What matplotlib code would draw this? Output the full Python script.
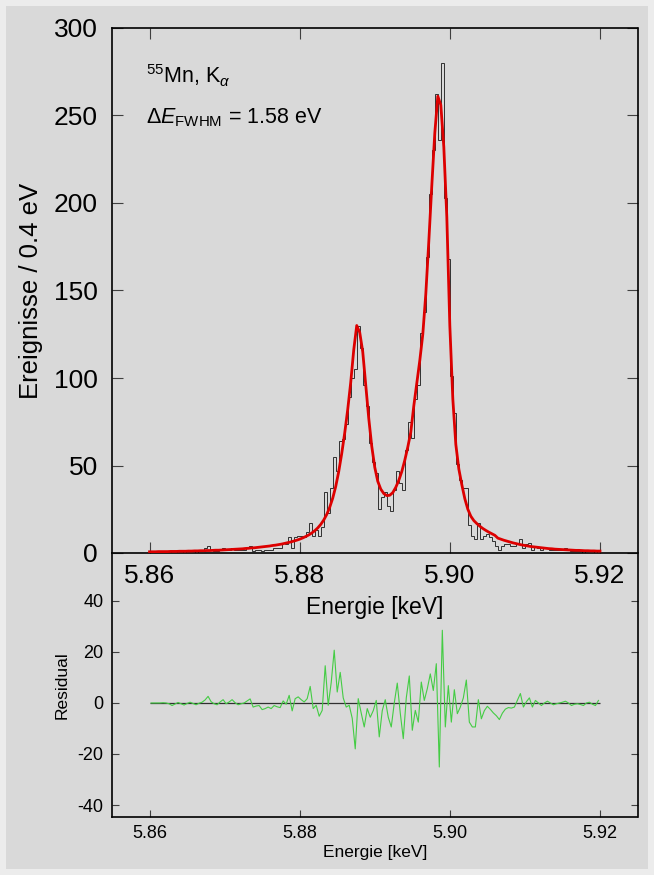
import numpy as np
import matplotlib
matplotlib.use("Agg")
import matplotlib.pyplot as plt
from matplotlib.patches import Rectangle

plt.rcParams['font.family'] = ['Liberation Sans', 'DejaVu Sans']
plt.rcParams['mathtext.fontset'] = 'custom'
plt.rcParams['mathtext.rm'] = 'Liberation Sans'
plt.rcParams['mathtext.it'] = 'Liberation Sans:italic'
plt.rcParams['mathtext.bf'] = 'Liberation Sans:bold'
plt.rcParams['axes.unicode_minus'] = False

# histogram: 0.4 eV bins from 5.86 to 5.92 keV
e_lo, e_hi, n_bins = 5.86, 5.92, 150

counts = [1, 1, 1, 1, 1, 1, 1, 0, 0, 1,
          1, 0, 1, 1, 1, 0, 1, 2, 3, 4,
          2, 1, 1, 2, 3, 2, 2, 3, 2, 2,
          2, 2, 3, 4, 1, 2, 2, 1, 2, 2,
          2, 3, 3, 3, 6, 5, 9, 3, 9, 10,
          10, 9, 12, 17, 10, 13, 10, 15, 35, 23,
          37, 55, 47, 64, 65, 74, 89, 100, 105, 130,
          117, 96, 84, 63, 52, 46, 25, 32, 35, 27,
          24, 36, 47, 40, 36, 59, 75, 66, 88, 96,
          126, 138, 169, 205, 230, 262, 236, 280, 203, 168,
          101, 80, 51, 42, 37, 37, 16, 10, 8, 17,
          8, 10, 11, 9, 7, 4, 2, 4, 5, 5,
          4, 4, 6, 8, 3, 5, 6, 2, 4, 3,
          2, 3, 3, 2, 2, 2, 2, 2, 3, 2,
          1, 1, 1, 1, 0, 1, 2, 1, 0, 2]

# fit curve, read at the bin edges
fit = [0.7, 0.7, 0.7, 0.8, 0.8, 0.8, 0.8, 0.9, 0.9, 0.9,
       1.0, 1.0, 1.0, 1.1, 1.1, 1.2, 1.2, 1.3, 1.3, 1.4,
       1.4, 1.5, 1.6, 1.6, 1.7, 1.8, 1.9, 2.0, 2.1, 2.2,
       2.3, 2.4, 2.6, 2.7, 2.9, 3.0, 3.2, 3.4, 3.6, 3.8,
       4.0, 4.3, 4.5, 4.8, 5.1, 5.5, 5.9, 6.3, 6.8, 7.3,
       7.9, 8.6, 9.4, 10.3, 11.4, 12.7, 14.3, 16.3, 18.8, 22.0,
       26.1, 31.3, 38.0, 46.5, 56.8, 68.6, 82.0, 97.5, 116, 130,
       126, 115, 96, 77, 61, 49, 41, 36.5, 34, 32.8,
       33, 34.5, 37.5, 41.5, 46.5, 53, 60.5, 69, 84, 97,
       110, 125, 148, 178, 210, 240, 261, 256, 232, 192,
       130, 88, 62, 48, 39, 31, 25, 21, 18.5, 16.8,
       15.3, 14, 12.9, 11.9, 11, 10.1, 8.5, 7.9, 7.3, 6.8,
       6.3, 5.8, 5.4, 5.0, 4.6, 4.3, 4.0, 3.7, 3.5, 3.3,
       3.1, 2.9, 2.7, 2.5, 2.4, 2.2, 2.1, 2.0, 1.9, 1.8,
       1.7, 1.6, 1.5, 1.5, 1.4, 1.3, 1.3, 1.2, 1.2, 1.1,
       1.1]

# residual per bin
residual = [0, 0, 0, 0, 0.1, 0, -0.3, -1.0, -0.4, 0.2,
            -0.3, -0.8, -0.2, 0.3, -0.2, -0.7, -0.1, 0.3, 1.2, 2.6,
            0.5, -0.3, -0.7, 0.4, 1.3, -0.3, 0.4, 1.3, 0.1, -0.7,
            -0.3, 0, 0.8, 1.6, -1.6, -1.2, -1.0, -2.6, -2.2, -1.6,
            -2.2, -1.0, -1.5, -1.8, 0.8, -0.5, 3.0, -3.1, 1.7, 2.4,
            1.3, 0.4, 1.7, 6.5, -2.2, -0.9, -5.2, -2.9, 14.6, -0.9,
            8, 20.7, 4.3, 12, 2, -1.6, -0.9, -6, -18, 1.7,
            -4, -9.4, -2.2, -5.6, -3, 1, -13.3, -3, 1.3, -5.6,
            -9.4, 0, 7.8, -4, -14, 2, 10.6, -10.7, -2.9, -7.5,
            8.2, 1, 5.6, 11.4, 4.9, 15.4, -25.1, 28.5, -9.4, 6.8,
            -7.5, 5.2, -4.2, -1.6, 2, 9, -7.5, -9.4, -9.4, 1.3,
            -6.2, -3, -1.3, -2.5, -3.9, -5, -6.5, -4, -2.4, -1.8,
            -2, -1.6, 1, 3.7, -1.6, 0.5, 2, -1.6, 1, 0,
            -1, 0, 0.7, 0, -0.7, -0.3, 0, 0.3, 0.7, 0,
            -1, -0.5, -0.3, -0.6, -1, 0, 0.3, -0.5, -1, 1]

x_ticks = [5.86, 5.88, 5.90, 5.92]
y_ticks_top = [0, 50, 100, 150, 200, 250, 300]
y_ticks_res = [-40, -20, 0, 20, 40]

edges = np.linspace(e_lo, e_hi, n_bins + 1)
centers = 0.5 * (edges[:-1] + edges[1:])

bg = '#d9d9d9'
fig = plt.figure(figsize=(6.54, 8.75), dpi=100, facecolor='#ececec')
fig.patches.append(Rectangle((6 / 654, 6 / 875), 642 / 654, 863 / 875,
                             transform=fig.transFigure, facecolor=bg,
                             edgecolor='none', zorder=-10))

ax = fig.add_axes([112 / 654, 1 - 553 / 875, 525.5 / 654, 525 / 875])
ax2 = fig.add_axes([112 / 654, 1 - 817 / 875, 525.5 / 654, 264 / 875])
ax.set_facecolor(bg)
ax2.patch.set_visible(False)
ax.set_zorder(2)

# top panel
ax.stairs(counts, edges, color='#303030', lw=0.7, zorder=2)
ax.plot(edges, fit, color='#dd0000', lw=2.0, zorder=3)
ax.set_xlim(5.855, 5.925)
ax.set_ylim(0, 300)
ax.set_xticks(x_ticks)
ax.set_xticklabels(['%.2f' % v for v in x_ticks])
ax.set_yticks(y_ticks_top)
ax.tick_params(direction='in', length=8, width=0.8, color='#404040',
               top=True, right=True, labelsize=19)
ax.tick_params(axis='x', pad=8)
ax.tick_params(axis='y', pad=10)
ax.set_xlabel('Energie [keV]', fontsize=16.5, labelpad=6)
ax.set_ylabel('Ereignisse / 0.4 eV', fontsize=18.5, labelpad=8)
for s in ax.spines.values():
    s.set_linewidth(1.2)

ax.text(0.065, 0.895, r'$^{55}$Mn, K$_{\alpha}$', transform=ax.transAxes,
        fontsize=15.5, va='baseline', ha='left')
ax.text(0.065, 0.818, r'$\Delta E_{\mathrm{FWHM}}$ = 1.58 eV',
        transform=ax.transAxes, fontsize=15.5, va='baseline', ha='left')

# residual panel
ax2.hlines(0, e_lo, e_hi, color='#303030', lw=0.9, zorder=2)
ax2.plot(centers, residual, color='#44cc44', lw=0.8, zorder=3)
ax2.set_xlim(5.855, 5.925)
ax2.set_ylim(-44.7, 58.8)
ax2.set_xticks(x_ticks)
ax2.set_xticklabels(['%.2f' % v for v in x_ticks])
ax2.set_yticks(y_ticks_res)
ax2.tick_params(direction='in', length=5, width=0.8, color='#404040',
                right=True, labelsize=13)
ax2.tick_params(axis='x', pad=6)
ax2.tick_params(axis='y', pad=6)
ax2.set_xlabel('Energie [keV]', fontsize=12.5, labelpad=2)
ax2.set_ylabel('Residual', fontsize=12.5, labelpad=6)
ax2.spines['top'].set_visible(False)
for s in ax2.spines.values():
    s.set_linewidth(1.2)

fig.savefig('out.png', dpi=100, facecolor=fig.get_facecolor())
